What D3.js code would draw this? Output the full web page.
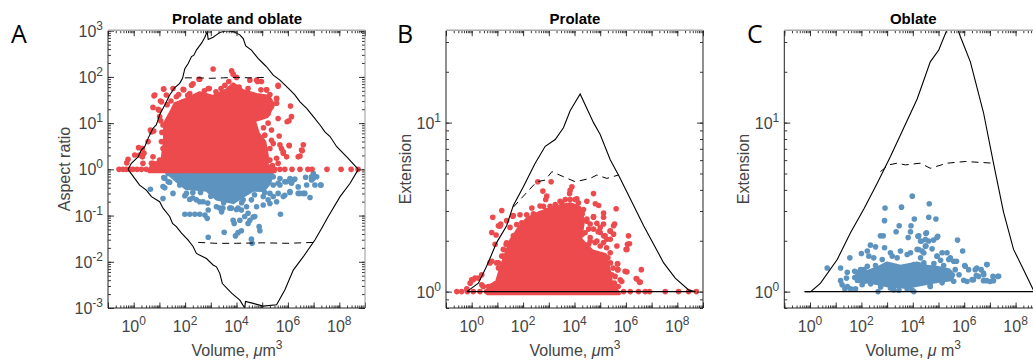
<!DOCTYPE html>
<html>
<head>
<meta charset="utf-8">
<script src="https://cdn.jsdelivr.net/npm/d3@7"></script>
<style>
  html, body { margin: 0; padding: 0; background: #fff; overflow: hidden; }
  svg { display: block; }
  text { font-family: "Liberation Sans", Arial, sans-serif; }
</style>
</head>
<body>
<svg id="chart" width="1033" height="363"></svg>
<script>
// all pairs are [log10 volume, log10 value]

var volumeExps = [0, 2, 4, 6, 8];
var ratioExps = [-3, -2, -1, 0, 1, 2, 3];
var extensionExps = [0, 1];

// Panel A
var outerTopA = [[-.22,0],[-.09,.13],[.04,.2],[.17,.27],[.3,.42],[.43,.49],[.56,.67],[.75,.89],[.88,.96],[1.01,1.18],[1.21,1.39],[1.4,1.61],[1.6,1.77],[1.79,1.86],[1.9,1.97],[1.99,2.18],[2.12,2.29],[2.25,2.44],[2.34,2.47],[2.44,2.58],[2.53,2.65],[2.64,2.73],[2.77,2.86],[2.86,2.98],[2.9,2.81],[3.09,2.86],[3.22,2.91],[3.35,2.96],[3.61,3],[3.87,2.98],[4.13,2.91],[4.26,2.83],[4.36,2.67],[4.58,2.58],[4.84,2.4],[5.04,2.29],[5.17,2.22],[5.43,2.04],[5.69,1.93],[6.08,1.72],[6.27,1.61],[6.47,1.46],[6.73,1.32],[6.99,1.14],[7.25,.96],[7.44,.81],[7.64,.71],[7.9,.49],[8.29,.27],[8.74,0]];
var outerBottomA = [[-.22,0],[.23,-.34],[.49,-.45],[.69,-.59],[1.01,-.7],[1.14,-.84],[1.4,-1.02],[1.51,-1.17],[1.66,-1.24],[1.86,-1.38],[2.12,-1.53],[2.31,-1.67],[2.44,-1.82],[2.83,-1.93],[3.09,-2.07],[3.22,-2.11],[3.35,-2.25],[3.45,-2.47],[3.81,-2.68],[4.13,-2.83],[4.32,-3],[4.35,-2.86],[4.65,-2.9],[5.04,-2.96],[5.56,-2.93],[5.88,-2.61],[6.21,-2.18],[6.6,-1.89],[7.05,-1.53],[7.31,-1.28],[7.57,-1.02],[8.03,-.59],[8.42,-.3],[8.74,0]];
var dashTopA = [[1.99,1.98],[2.5,1.98],[3,1.97],[3.5,1.98],[4,1.99],[4.5,1.98],[5.23,1.99]];
var dashBottomA = [[2.51,-1.58],[3.2,-1.6],[4,-1.6],[5,-1.59],[6,-1.6],[7.05,-1.58]];
var redCoreA = [[.6,-.05],[.7,.1],[1.1,.2],[1.2,.63],[1.2,1],[1.45,1.25],[1.6,1.42],[2.05,1.52],[2.57,1.66],[3.09,1.58],[3.61,1.72],[3.87,1.85],[4.26,1.7],[4.78,1.62],[5.25,1.58],[5.45,1.4],[5.2,1.14],[4.7,1.05],[4.85,.78],[5.1,.6],[5.2,.3],[5.2,.1],[5.5,-.05]];
var blueCoreA = [[1.25,-.05],[1.66,-.25],[2.05,-.42],[2.25,-.42],[2.83,-.45],[3.22,-.64],[3.87,-.72],[4.26,-.58],[4.65,-.45],[5.05,-.46],[5.3,-.3],[5.4,-.05]];
var redDotsA = [[3.09,2.17],[.79,1.59],[1.16,1.74],[1.04,1.48],[.75,1.34],[.95,1.3],[1.27,1.61],[1.01,1.14],[.78,.83],[.65,.85],[.19,.47],[.4,.35],[.04,.31],[-.22,.22],[-.27,.14],[.36,.13],[.75,.13],[1.53,1.75],[1.92,1.73],[2.25,1.82],[2.57,1.95],[2.94,1.75],[3.81,2.13],[3.87,2.06],[4,1.99],[4.78,1.93],[4.97,1.9],[5.62,1.82],[5.17,1.72],[5.56,1.52],[6.1,1.37],[6.14,1.14],[5.97,1.03],[5.66,.72],[6.05,.51],[6.6,.53],[6.53,.42],[6.47,.29],[5.95,.27],[5.82,.35],[5.75,.45],[5.43,.56],[5.62,.13],[5.3,.2],[-.57,0],[-.42,0],[-.29,0],[-.16,0],[-.03,0],[.13,0],[.3,0],[.49,0],[.69,0],[.88,0],[5.49,0],[5.69,0],[5.88,0],[6.16,0],[6.47,0],[6.78,0],[6.94,0],[7.52,0],[8.07,0],[8.46,0],[8.73,0],
  [.82,1.61],[1.17,1.74],[1.08,1.46],[.99,1.28],[1.66,1.57],[1.95,1.72],[2.31,1.85],[2.54,1.95],[2.9,1.75],[3.55,1.82],[1.6,1.28],[1.92,1.46],[2.18,1.64],[1.14,.96],[1.34,.81],[1.08,.6],[1.14,.45],[.69,.81],[.56,.6],[.34,.45],[.23,.31],[.34,.27],[.75,.27],[.69,.13],[1.01,.2],[.95,.06],[1.1,.8],[1.05,1.05],[1.3,1.4],[1.45,1.48],[1.75,1.62],[2.1,1.6],[2.75,1.7],[3.2,1.68],[3.4,1.75],[3.7,1.9],[4.1,1.78],[4.45,1.75],
  [5.62,1.8],[4.82,1.9],[4.52,1.93],[5.17,1.72],[5.56,1.54],[5.56,1.43],[5.36,1.36],[5.23,1.21],[4.97,1.14],[6.04,1.05],[5.62,1.1],[5.23,1],[5.36,.85],[5.1,.74],[5.36,.63],[6.05,.52],[6.56,.4],[6.4,.27],[5.82,.38],[5.69,.53],[5.56,.24],[5.3,.45],[5.23,.2],[5.4,.08],[5.05,.9],[4.9,1.2],[5.1,1.45],[5.3,1.62],[4.95,1.72]];
var blueDotsA = [[.65,-.43],[1.14,-.63],[1.14,-.37],[1.21,-.19],[1.34,-.27],[1.53,-.52],[2.05,-.52],[2.18,-.65],[2.44,-.66],[2.7,-.7],[1.99,-.97],[2.18,-.97],[2.38,-.97],[2.57,-.97],[2.77,-.99],[2.86,-1.06],[2.9,-.88],[2.9,-1.47],[3.52,-1.36],[3.87,-1.1],[3.91,-1.17],[4.13,-1.1],[4.19,-1.33],[4.06,-1.37],[3.96,-1.44],[4.58,-1.51],[4.61,-1.6],[4.88,-1.24],[4.91,-1.33],[5.71,-.97],[4.39,-.81],[4.45,-.95],[4.52,-1.1],[4.71,-1.02],[4.32,-1.02],[4.45,-1.17],[4.19,-.88],[4.58,-.66],[4.78,-.81],[5.04,-.77],[5.3,-.74],[5.56,-.7],[5.04,-.59],[3.35,-.84],[3.74,-.84],[4,-.87],[3.42,-.92],[6.69,-.17],[6.99,-.09],[7.12,-.16],[6.99,-.19],[7.05,-.34],[7.27,-.34],[6.73,-.34],[6.86,-.61],[6.6,-.52],[6.4,-.52],[6.08,-.5],[5.82,-.59],[5.3,-.52],[6.21,-.23],[5.95,-.27],[5.69,-.34],
  [5.43,-.16],[5.69,-.2],[6.08,-.2],[6.27,-.21],[6.92,-.16],[6.92,-.23],[7.29,-.34],[6.66,-.52],[6.47,-.52],[6.4,-.38],[6.14,-.3],[5.88,-.27],[5.62,-.3],[5.43,-.34],[6.08,-.48],[5.88,-.56],[5.62,-.52],[5.43,-.59],[5.23,-.66],[4.26,-.66],[4.06,-.84],[4.65,-1.03],[1.17,-.18],[1.21,-.4],[1.4,-.28],[1.79,-.34],[2.05,-.19],[1.34,-.09],[1.99,-.57],[2.3,-.62],[2.57,-.7],[2.88,-.73],[3.22,-.81],[3.47,-.84],[3.8,-.84],[1.7,-.15],[2.3,-.5],[2.6,-.5],[3,-.58],[3.5,-.72],[4.2,-.72],[4.7,-.55],[5.1,-.5]];

// Panel B
var outerB = [[-.19,0],[.26,.05],[.58,.15],[.97,.29],[1.36,.39],[1.62,.51],[2.01,.62],[2.47,.76],[2.86,.86],[3.25,.9],[3.57,.97],[3.83,1.07],[4.22,1.17],[4.74,1],[5,.93],[5.39,.78],[5.71,.69],[6.17,.55],[6.69,.39],[7.01,.3],[7.47,.17],[7.92,.08],[8.44,.01],[8.7,0]];
var baseB = [[-.19,0],[8.7,0]];
var dashB = [[1.62,.5],[2.01,.565],[2.53,.65],[2.86,.66],[3.12,.71],[3.57,.68],[4.03,.65],[4.61,.67],[4.87,.69],[5.26,.67],[5.71,.69]];
var redCoreB = [[.62,-.012],[.65,.03],[.97,.06],[1.15,.15],[1.5,.3],[1.8,.37],[2.14,.43],[2.66,.47],[3.31,.5],[3.83,.52],[4.2,.5],[4.35,.42],[4.25,.31],[4.7,.24],[5.2,.22],[5.35,.13],[5.45,.05],[5.75,-.012]];
var redDotsB = [[2.57,.65],[3.09,.65],[2.77,.595],[2.92,.565],[2.88,.545],[3.9,.62],[3.83,.6],[3.81,.58],[4.74,.58],[1.17,.48],[.82,.44],[1.36,.42],[1.13,.4],[1.04,.39],[.78,.35],[.95,.335],[.91,.28],[1.62,.45],[1.88,.455],[2.14,.455],[2.34,.495],[2.79,.505],[3.05,.505],[3.44,.535],[3.64,.545],[4.09,.55],[4.48,.535],[4.81,.52],[4.94,.51],[5.62,.49],[5.13,.465],[4.74,.445],[4.48,.43],[4.87,.405],[5.13,.4],[5.39,.36],[5.52,.39],[5.39,.31],[5.13,.29],[4.87,.3],[4.61,.32],[4.74,.37],[5,.35],[4.55,.37],[5.19,.33],[5.65,.27],[6.1,.33],[6.06,.28],[6.01,.25],[5.68,.165],[5.68,.13],[5.97,.12],[6.6,.13],[6.43,.075],[6.53,.055],[5.78,.07],[5.58,.09],[-.58,0],[-.39,0],[-.17,0],[.06,0],[.32,0],[.58,0],[5.91,0],[6.17,0],[6.49,0],[6.75,0],[6.92,0],[7.53,0],[8.05,0],[8.44,0],[8.74,0],[0,.07],[.13,.08],[.26,.08],[-.06,.05],[.39,.1],[.39,.04],[-.19,.016],[1.23,.25],[1.17,.21],[1.04,.17],[.71,.17],[1.34,.28],[1.56,.27],[.91,.04],
  [4.02,.545],[4.35,.486],[5.56,.4],[5.52,.34],[5.26,.31],[5,.27],[4.61,.3],[6.14,.283],[6.04,.25],[5.39,.23],[5.13,.21],[5.67,.164],[5.69,.13],[6.04,.117],[6.4,.077],[6.56,.057],[5.84,.06],[5.45,.1],[4.92,.355],[4.41,.348],[4.61,.4],[5,.38],[5.13,.44],[4.74,.44],[4.48,.417],[5.39,.357],[4.8,.29],[5.13,.33],
  [1.6,.446],[2.66,.506],[3.25,.516],[3.51,.526],[3.83,.545],[1.1,.387],[1.36,.289],[1.23,.21],[.78,.18],[.97,.17],[1.04,.14],[.06,.07],[.65,.03],[.45,.03],[1.49,.38],[1.75,.397],[1.95,.407],[1.62,.33],[2.4,.46],[2.9,.48],[3.15,.49],[3.4,.5],[3.7,.51],[4.15,.525],[4.3,.46],[5.3,.2],[5.4,.17],[5.5,.14],[5.55,.05],[5.7,.03],[5.25,.26],[4.55,.28],[4.2,.4],[4.3,.34]];

// Panel C
var outerC = [[-.21,0],[.03,0],[.41,.05],[1.06,.19],[1.58,.35],[2.1,.49],[2.61,.64],[3.13,.8],[3.65,.97],[4.17,1.14],[4.68,1.36],[5.01,1.43],[5.33,1.55],[5.6,1.62],[5.85,1.51],[6.24,1.36],[6.75,1.06],[7.14,.76],[7.53,.47],[7.92,.25],[8.31,.13],[8.69,.01]];
var baseC = [[-.21,0],[8.69,0]];
var dashC = [[2.74,.71],[3.07,.75],[3.39,.76],[3.71,.75],[4.29,.76],[4.68,.73],[5.33,.76],[6.04,.77],[7.14,.76]];
var blueCoreC = [[1.8,.09],[1.8,.06],[2.35,.055],[3,.035],[3.78,.025],[4.29,.04],[4.94,.06],[5.5,.07],[5.6,.1],[5.4,.13],[4.94,.145],[4.55,.15],[4.17,.17],[3.52,.15],[3,.17],[2.61,.14],[2.23,.12],[1.84,.12]];
var blueDotsC = [[.67,.14],[1.19,.14],[1.55,.2],[1.45,.115],[1.42,.08],[1.19,.065],[1.25,.04],[1.58,.016],[1.77,.016],[1.36,.016],[1.45,.03],[2.65,0],[3.26,.01],[4.04,0],[3.97,.01],[4.68,.035],[2,.225],[2.23,.24],[2.35,.275],[2.55,.265],[2.29,.21],[2.48,.2],[2.9,.26],[2.74,.33],[2.85,.33],[2.9,.42],[2.92,.495],[3.35,.354],[3.47,.39],[3.56,.5],[3.98,.565],[4.06,.43],[3.93,.39],[3.91,.354],[3.82,.32],[4.64,.52],[4.62,.44],[4.9,.43],[4.51,.344],[4.23,.33],[4.3,.3],[4.62,.3],[4.94,.32],[4.81,.305],[4.51,.27],[4.36,.24],[5.74,.305],[5.94,.24],[3.13,.23],[3.52,.24],[3.91,.23],[4.17,.25],[4.94,.21],[5.14,.23],[5.33,.23],[5.46,.2],[5.59,.18],[6.04,.15],[6.66,.13],[6.88,.16],[6.49,.14],[6.75,.11],[6.75,.065],[7.01,.06],[7.14,.065],[7.12,.09],[7.31,.09],[6.36,.07],[6.11,.06],[6.56,.09],[6.88,.065],
  [1.74,.12],[1.74,.083],[2.1,.13],[2.1,.06],[1.97,.13],[2.23,.15],[2.55,.154],[2.81,.19],[3.2,.21],[3.39,.2],[3.78,.22],[2.03,.041],[2.36,.046],[2.75,.028],[3.13,.022],[3.46,.008],[3.78,.016],
  [4.2,.328],[4.53,.348],[4.97,.328],[4.49,.308],[4.33,.298],[4.49,.269],[4.75,.253],[4.23,.249],[4.3,.2],[4.43,.229],[4.95,.209],[5.08,.186],[5.4,.19],[5.7,.18],[6.02,.154],[6.43,.13],[6.89,.16],[6.76,.1],[6.17,.13],[6.47,.095],[7.34,.091],[6.31,.071],[5.98,.067],[5.59,.061],[5.14,.052],[4.68,.031],[4.82,.166],[4.43,.17],[4.04,.16],[5.8,.1],[5.65,.13],[5.2,.155]];

var red = '#EC4A4D';
var blue = '#5D93BF';
var inkGrey = '#444';

var svg = d3.select('#chart');

function drawPanel(cfg) {
  var x = d3.scaleLog().domain([1e-1, 1e9]).range([cfg.left, cfg.left + 257]);
  var y = d3.scaleLog().domain(cfg.yDomain).range([308, 30.7]);
  var g = svg.append('g');

  var clipId = 'clip' + cfg.letter;
  g.append('clipPath').attr('id', clipId).append('rect')
    .attr('x', cfg.left).attr('y', 30.7).attr('width', 257).attr('height', 277.3);

  var toX = function(p) { return x(Math.pow(10, p[0])); };
  var toY = function(p) { return y(Math.pow(10, p[1])); };
  var line = d3.line().x(toX).y(toY);
  var closed = d3.line().x(toX).y(toY).curve(d3.curveLinearClosed);

  // the dense middle of the cloud, then the dots around it
  cfg.groups.forEach(function(group) {
    if (group.core) {
      g.append('path')
        .attr('d', closed(group.core))
        .attr('fill', group.color)
        .attr('stroke', group.color)
        .attr('stroke-width', 3)
        .attr('stroke-linejoin', 'round');
    }
    g.append('g').selectAll('circle')
      .data(group.dots)
      .enter()
      .append('circle')
      .attr('cx', toX)
      .attr('cy', toY)
      .attr('r', 2.8)
      .attr('fill', group.color);
  });

  var lines = g.append('g').attr('clip-path', 'url(#' + clipId + ')').attr('fill', 'none').attr('stroke', 'black');
  cfg.solid.forEach(function(d) {
    lines.append('path').attr('d', line(d)).attr('stroke-width', 1.1);
  });
  (cfg.base || []).forEach(function(d) {
    lines.append('path').attr('d', line(d)).attr('stroke-width', 1.4);
  });
  cfg.dashed.forEach(function(d) {
    lines.append('path').attr('d', line(d)).attr('stroke-width', 1).attr('stroke-dasharray', '7,5');
  });

  // ticks point inwards on all four sides, matlab style
  // (count 20: any higher and d3 falls back to linear ticks on a log scale)
  var xMinor = x.ticks(20);
  var yMinor = y.ticks(20);
  var xMajor = d3.range(-1, 10).map(function(e) { return Math.pow(10, e); });
  var yMajor = cfg.yExps.map(function(e) { return Math.pow(10, e); });

  function addAxis(axis, transform) {
    var a = g.append('g').attr('transform', transform).call(axis);
    a.selectAll('path').remove();
    a.selectAll('line').attr('stroke', '#222').attr('stroke-width', 0.9);
    a.selectAll('text').remove();
  }
  addAxis(d3.axisBottom(x).tickValues(xMinor).tickSize(-2.5), 'translate(0,308)');
  addAxis(d3.axisBottom(x).tickValues(xMajor).tickSize(-5.5), 'translate(0,308)');
  addAxis(d3.axisTop(x).tickValues(xMinor).tickSize(-2.5), 'translate(0,30.7)');
  addAxis(d3.axisTop(x).tickValues(xMajor).tickSize(-5.5), 'translate(0,30.7)');
  addAxis(d3.axisLeft(y).tickValues(yMinor).tickSize(-3), 'translate(' + cfg.left + ',0)');
  addAxis(d3.axisLeft(y).tickValues(yMajor).tickSize(-6), 'translate(' + cfg.left + ',0)');
  addAxis(d3.axisRight(y).tickValues(yMinor).tickSize(-3), 'translate(' + (cfg.left + 257) + ',0)');
  addAxis(d3.axisRight(y).tickValues(yMajor).tickSize(-6), 'translate(' + (cfg.left + 257) + ',0)');

  // frame
  g.append('line').attr('x1', cfg.left).attr('x2', cfg.left).attr('y1', 30.7).attr('y2', 308).attr('stroke', '#222');
  g.append('line').attr('x1', cfg.left).attr('x2', cfg.left + 257).attr('y1', 308).attr('y2', 308).attr('stroke', '#222');
  g.append('line').attr('x1', cfg.left + 257).attr('x2', cfg.left + 257).attr('y1', 30.7).attr('y2', 308).attr('stroke', cfg.rightColor);
  g.append('line').attr('x1', cfg.left).attr('x2', cfg.left + 257).attr('y1', 30.2).attr('y2', 30.2).attr('stroke', '#aaa').attr('stroke-width', 1.4);

  // tick labels as 10 + superscript
  volumeExps.forEach(function(e) {
    var t = g.append('text')
      .attr('x', x(Math.pow(10, e)))
      .attr('y', 332)
      .attr('text-anchor', 'middle')
      .attr('font-size', 16)
      .attr('fill', inkGrey);
    t.append('tspan').text('10');
    t.append('tspan').attr('font-size', 12).attr('dy', -7).text(e);
  });
  cfg.yExps.forEach(function(e) {
    var t = g.append('text')
      .attr('x', cfg.left - 5)
      .attr('y', y(Math.pow(10, e)) + 6)
      .attr('text-anchor', 'end')
      .attr('font-size', 16)
      .attr('fill', inkGrey);
    t.append('tspan').text('10');
    t.append('tspan').attr('font-size', 12).attr('dy', -7).text(e);
  });

  g.append('text')
    .attr('x', cfg.left + 129)
    .attr('y', 24)
    .attr('text-anchor', 'middle')
    .attr('font-size', 15)
    .attr('font-weight', 'bold')
    .attr('fill', 'black')
    .text(cfg.title);

  var volLabel = g.append('text')
    .attr('x', cfg.left + 129)
    .attr('y', 356)
    .attr('text-anchor', 'middle')
    .attr('font-size', 16)
    .attr('fill', inkGrey);
  volLabel.append('tspan').text('Volume, ');
  volLabel.append('tspan').attr('font-style', 'italic').text('\u03BC');
  volLabel.append('tspan').text(cfg.unit);
  volLabel.append('tspan').attr('font-size', 12).attr('dy', -7).text('3');

  g.append('text')
    .attr('transform', 'translate(' + cfg.yLabelX + ',169) rotate(-90)')
    .attr('text-anchor', 'middle')
    .attr('font-size', 16)
    .attr('fill', inkGrey)
    .text(cfg.yLabel);

  g.append('text')
    .attr('x', cfg.letterX)
    .attr('y', 43)
    .attr('font-size', 25)
    .attr('style', 'font-family: "Open Sans", sans-serif')
    .attr('fill', 'black')
    .text(cfg.letter);
}

drawPanel({
  letter: 'A', letterX: 11, left: 108, title: 'Prolate and oblate', yLabel: 'Aspect ratio', yLabelX: 70,
  unit: 'm', rightColor: '#999', yDomain: [1e-3, 1e3], yExps: ratioExps,
  groups: [{ core: blueCoreA, dots: blueDotsA, color: blue }, { core: redCoreA, dots: redDotsA, color: red }],
  solid: [outerTopA, outerBottomA], dashed: [dashTopA, dashBottomA]
});

drawPanel({
  letter: 'B', letterX: 397, left: 446, title: 'Prolate', yLabel: 'Extension', yLabelX: 411,
  unit: 'm', rightColor: '#222', yDomain: [0.8, 35], yExps: extensionExps,
  groups: [{ core: redCoreB, dots: redDotsB, color: red }],
  solid: [outerB], base: [baseB], dashed: [dashB]
});

drawPanel({
  letter: 'C', letterX: 747, left: 784.3, title: 'Oblate', yLabel: 'Extension', yLabelX: 749,
  unit: ' m', rightColor: '#222', yDomain: [0.8, 35], yExps: extensionExps,
  groups: [{ core: blueCoreC, dots: blueDotsC, color: blue }],
  solid: [outerC], base: [baseC], dashed: [dashC]
});
</script>
</body>
</html>
